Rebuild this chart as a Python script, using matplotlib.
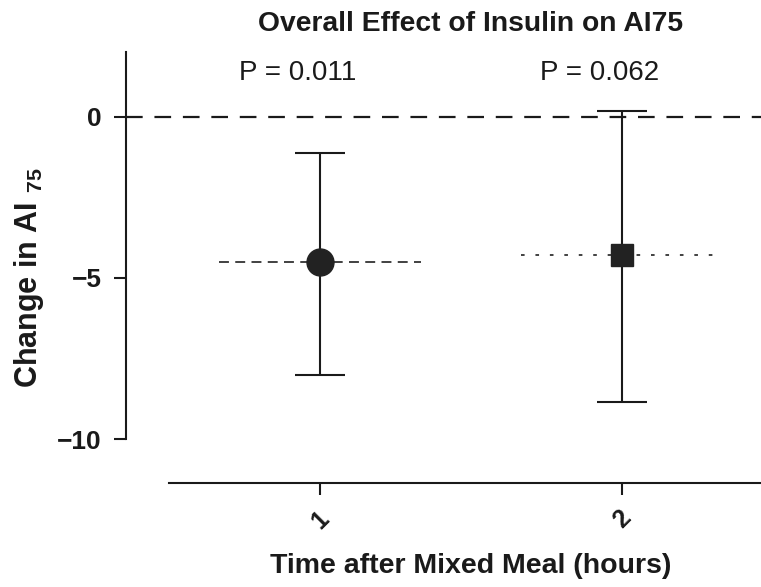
import matplotlib
matplotlib.use("Agg")
import matplotlib.pyplot as plt

# Data
times = [1, 2]
tick_labels = ["1", "2"]
estimates = [-4.5, -4.3]
ci_lower = [-8.0, -8.85]
ci_upper = [-1.13, 0.18]
p_labels = ["P = 0.011", "P = 0.062"]
markers = ["o", "s"]
ref_styles = [(0, (5.5, 3.5)), (0, (2, 6))]

plt.rcParams['font.family'] = ['Liberation Sans', 'DejaVu Sans']
plt.rcParams['mathtext.fontset'] = 'custom'
plt.rcParams['mathtext.rm'] = 'Liberation Sans'
plt.rcParams['mathtext.bf'] = 'Liberation Sans:bold'
plt.rcParams['mathtext.it'] = 'Liberation Sans:italic'

W, H = 761, 587
fig = plt.figure(figsize=(W / 100, H / 100), dpi=100)
left = 169 / W
right = 773 / W
bottom = 1 - 439.3 / H
top = 1 - 52 / H
ax = fig.add_axes([left, bottom, right - left, top - bottom])

ink = '#1a1a1a'

ax.set_xlim(0.5, 2.5)
ax.set_ylim(-10, 2)

# zero reference line (starts at the offset y-spine)
ax.axhline(0, xmin=-43 / 604, xmax=1.0, color=ink, lw=1.6,
           linestyle=(0, (7.5, 5.3)), clip_on=False, zorder=1)

for x, est, lo, hi, m, ls, pl in zip(times, estimates, ci_lower, ci_upper,
                                      markers, ref_styles, p_labels):
    # horizontal reference through the estimate
    ax.plot([x - 0.333, x + 0.333], [est, est], color='#333333', lw=1.3,
            linestyle=ls, zorder=2)
    ax.errorbar([x], [est], yerr=[[est - lo], [hi - est]], fmt='none',
                ecolor=ink, elinewidth=1.5, capsize=18, capthick=1.5, zorder=3)
    ax.plot([x], [est], marker=m, color='#222222',
            markersize=19.4 if m == 'o' else 16.3, linestyle='none', zorder=4)
    ax.text(x - 0.073, 1.35, pl, ha='center', va='center', fontsize=20,
            color=ink)

ax.set_title("Overall Effect of Insulin on AI75", fontsize=20.3,
             fontweight='bold', color=ink, pad=15)

for side in ['top', 'right']:
    ax.spines[side].set_visible(False)
ax.spines['left'].set_position(('outward', 31))
ax.spines['bottom'].set_position(('outward', 31.7))
for side in ['left', 'bottom']:
    ax.spines[side].set_linewidth(1.5)
    ax.spines[side].set_color(ink)

ax.set_yticks([0, -5, -10])
ax.set_yticklabels(['0', '\u22125', '\u221210'], fontsize=19,
                   fontweight='bold', color=ink)
ax.set_xticks(times)
ax.set_xticklabels(tick_labels, fontsize=18, fontweight='bold', color=ink,
                   rotation=45, ha='center', va='top')
ax.tick_params(axis='both', direction='out', length=8.5, width=1.5,
               color=ink, pad=9)
ax.tick_params(axis='x', pad=8)

ax.set_xlabel("Time after Mixed Meal (hours)", fontsize=20.5,
              fontweight='bold', color=ink, labelpad=14)
ax.set_ylabel(r"Change in AI $_{\mathbf{75}}$", fontsize=22,
              fontweight='bold', color=ink, labelpad=8)
ax.yaxis.label.set_y(5 / 12)

fig.savefig("out.png", dpi=100)
